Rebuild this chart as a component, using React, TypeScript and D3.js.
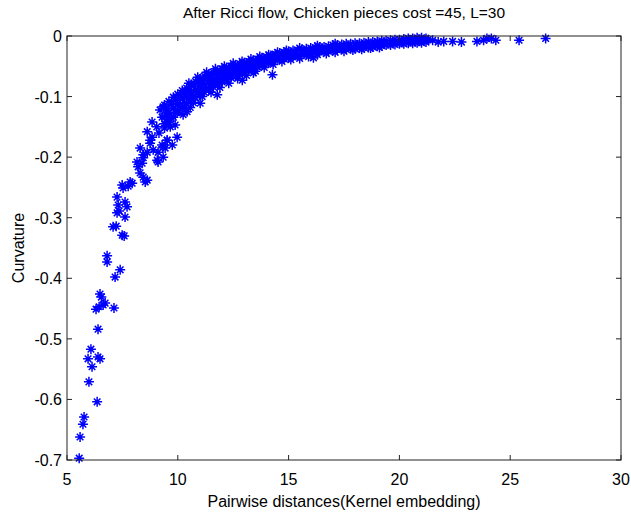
import React, { useEffect, useRef } from "react";
import * as d3 from "d3";

// x ticks and y ticks as drawn on the axes
const xTicks = [5, 10, 15, 20, 25, 30];
const yTicks = [0, -0.1, -0.2, -0.3, -0.4, -0.5, -0.6, -0.7];

// sparse low-distance tail
const tailPts: [number, number][] = [
    [5.55, -0.697], [5.59, -0.662], [5.72, -0.641], [5.77, -0.629], [6.36, -0.604],
    [5.99, -0.571], [6.13, -0.546], [5.95, -0.533], [6.40, -0.530], [6.49, -0.533],
    [6.08, -0.517], [6.40, -0.484], [6.31, -0.451], [6.45, -0.447], [6.63, -0.444],
    [6.72, -0.441], [6.49, -0.426], [6.55, -0.431], [7.12, -0.449], [7.17, -0.398],
    [7.40, -0.386], [6.81, -0.373], [6.81, -0.363], [7.08, -0.315], [7.22, -0.314],
    [7.49, -0.329], [7.58, -0.330], [7.26, -0.292], [7.35, -0.289], [7.62, -0.299],
    [7.31, -0.279], [7.71, -0.282], [7.26, -0.266], [7.62, -0.274], [7.53, -0.251],
    [7.76, -0.248], [7.94, -0.243], [7.49, -0.246], [7.85, -0.241], [8.53, -0.241],
    [8.62, -0.238], [8.44, -0.233], [8.30, -0.226], [8.21, -0.216], [8.39, -0.210],
    [8.44, -0.201], [8.16, -0.208], [9.07, -0.205], [9.11, -0.208], [8.30, -0.185],
    [8.75, -0.177], [8.89, -0.188], [9.34, -0.183], [9.52, -0.172], [8.44, -0.196],
    [8.62, -0.192], [9.11, -0.192], [8.75, -0.172], [8.84, -0.167], [8.62, -0.158],
    [8.84, -0.142], [9.20, -0.122], [9.34, -0.117], [9.29, -0.134], [9.52, -0.127],
    [9.97, -0.167], [9.66, -0.150], [9.88, -0.147], [9.97, -0.127], [10.24, -0.130],
    [10.42, -0.125], [9.52, -0.172], [9.43, -0.185], [9.29, -0.180], [9.75, -0.180],
    [9.34, -0.200], [9.05, -0.150], [9.15, -0.160], [9.40, -0.145], [9.60, -0.138],
    [11.01, -0.111], [10.56, -0.118], [11.78, -0.097], [12.91, -0.073], [13.41, -0.061],
    [14.27, -0.064], [16.12, -0.036],
];

// dense band, 9.4 to 15
const bandPts: [number, number][] = [
    [9.4, -0.114], [9.4, -0.133], [9.4, -0.152], [9.5, -0.120], [9.5, -0.142],
    [9.6, -0.108], [9.6, -0.127], [9.6, -0.146], [9.7, -0.113], [9.7, -0.136],
    [9.8, -0.101], [9.8, -0.119], [9.8, -0.134], [9.9, -0.106], [9.9, -0.126],
    [10.0, -0.096], [10.0, -0.111], [10.0, -0.124], [10.1, -0.099], [10.1, -0.116],
    [10.2, -0.090], [10.2, -0.104], [10.2, -0.118], [10.3, -0.094], [10.3, -0.110],
    [10.4, -0.086], [10.4, -0.099], [10.4, -0.112], [10.5, -0.089], [10.5, -0.104],
    [10.6, -0.080], [10.6, -0.094], [10.6, -0.107], [10.7, -0.083], [10.7, -0.099],
    [10.8, -0.075], [10.8, -0.089], [10.8, -0.102], [10.9, -0.078], [10.9, -0.093],
    [11.0, -0.071], [11.0, -0.084], [11.0, -0.097], [11.1, -0.074], [11.1, -0.089],
    [11.2, -0.066], [11.2, -0.080], [11.2, -0.093], [11.3, -0.070], [11.3, -0.085],
    [11.4, -0.063], [11.4, -0.076], [11.4, -0.088], [11.5, -0.066], [11.5, -0.080],
    [11.6, -0.060], [11.6, -0.072], [11.6, -0.084], [11.7, -0.063], [11.7, -0.076],
    [11.8, -0.057], [11.8, -0.069], [11.8, -0.080], [11.9, -0.060], [11.9, -0.073],
    [12.0, -0.054], [12.0, -0.066], [12.0, -0.076], [12.1, -0.057], [12.1, -0.069],
    [12.2, -0.052], [12.2, -0.062], [12.2, -0.072], [12.3, -0.055], [12.3, -0.066],
    [12.4, -0.050], [12.4, -0.060], [12.4, -0.069], [12.5, -0.053], [12.5, -0.064],
    [12.6, -0.048], [12.6, -0.057], [12.6, -0.066], [12.7, -0.050], [12.7, -0.061],
    [12.8, -0.046], [12.8, -0.055], [12.8, -0.063], [12.9, -0.048], [12.9, -0.058],
    [13.0, -0.044], [13.0, -0.052], [13.0, -0.060], [13.1, -0.046], [13.1, -0.055],
    [13.2, -0.042], [13.2, -0.050], [13.2, -0.057], [13.3, -0.044], [13.3, -0.053],
    [13.4, -0.040], [13.4, -0.047], [13.4, -0.054], [13.5, -0.042], [13.5, -0.050],
    [13.6, -0.038], [13.6, -0.045], [13.6, -0.051], [13.7, -0.040], [13.7, -0.048],
    [13.8, -0.036], [13.8, -0.042], [13.8, -0.048], [13.9, -0.038], [13.9, -0.045],
    [14.0, -0.034], [14.0, -0.040], [14.0, -0.045], [14.1, -0.036], [14.1, -0.043],
    [14.2, -0.032], [14.2, -0.038], [14.2, -0.042], [14.3, -0.034], [14.3, -0.040],
    [14.4, -0.030], [14.4, -0.035], [14.4, -0.040], [14.5, -0.032], [14.5, -0.037],
    [14.6, -0.028], [14.6, -0.033], [14.6, -0.038], [14.7, -0.030], [14.7, -0.035],
    [14.8, -0.027], [14.8, -0.032], [14.8, -0.037], [14.9, -0.028], [14.9, -0.034],
    [15.0, -0.025], [15.0, -0.030], [15.0, -0.036],
];

// ragged edges of the band
const edgePts: [number, number][] = [
    [10.3, -0.118], [10.7, -0.110], [11.1, -0.100], [11.5, -0.093], [11.9, -0.085],
    [12.3, -0.078], [12.7, -0.070], [13.1, -0.065], [13.5, -0.058], [13.9, -0.052],
    [14.3, -0.047], [14.7, -0.042], [15.1, -0.039], [15.5, -0.037], [15.9, -0.034],
    [16.3, -0.031], [16.7, -0.029], [17.1, -0.027], [17.5, -0.025], [17.9, -0.023],
    [18.3, -0.022], [18.7, -0.020], [19.1, -0.019],
    [10.5, -0.078], [10.9, -0.068], [11.3, -0.060], [11.7, -0.054], [12.1, -0.050],
    [12.5, -0.045], [12.9, -0.042], [13.3, -0.038], [13.7, -0.034], [14.1, -0.031],
    [14.5, -0.027], [14.9, -0.024], [15.5, -0.020], [16.3, -0.016], [17.1, -0.013],
];

// flattening tail, 15.2 onward
const flatPts: [number, number][] = [
    [15.2, -0.024], [15.2, -0.034], [15.3, -0.029], [15.4, -0.023], [15.4, -0.033],
    [15.6, -0.022], [15.6, -0.031], [15.7, -0.026], [15.8, -0.021], [15.8, -0.030],
    [16.0, -0.020], [16.0, -0.029], [16.1, -0.024], [16.2, -0.019], [16.2, -0.028],
    [16.4, -0.018], [16.4, -0.026], [16.5, -0.022], [16.6, -0.018], [16.6, -0.025],
    [16.8, -0.017], [16.8, -0.025], [16.9, -0.020], [17.0, -0.015], [17.0, -0.024],
    [17.2, -0.015], [17.2, -0.023], [17.3, -0.019], [17.4, -0.014], [17.4, -0.022],
    [17.6, -0.013], [17.6, -0.022], [17.7, -0.017], [17.8, -0.013], [17.8, -0.021],
    [18.0, -0.012], [18.0, -0.021], [18.1, -0.016], [18.2, -0.012], [18.2, -0.020],
    [18.4, -0.011], [18.4, -0.019], [18.5, -0.015], [18.6, -0.010], [18.6, -0.019],
    [18.8, -0.010], [18.8, -0.018], [18.9, -0.013], [19.0, -0.009], [19.0, -0.017],
    [19.2, -0.008], [19.2, -0.016], [19.3, -0.012], [19.4, -0.008], [19.4, -0.015],
    [19.6, -0.007], [19.6, -0.015], [19.7, -0.010], [19.8, -0.006], [19.8, -0.014],
    [20.0, -0.006], [20.0, -0.013], [20.1, -0.009], [20.2, -0.005], [20.2, -0.013],
    [20.4, -0.004], [20.4, -0.012], [20.5, -0.008], [20.6, -0.004], [20.6, -0.012],
    [20.7, -0.009], [20.8, -0.003], [20.8, -0.011], [20.9, -0.007], [21.0, -0.003],
    [21.0, -0.011], [21.1, -0.008], [21.2, -0.004], [21.2, -0.010], [21.3, -0.006],
    [21.5, -0.007], [21.75, -0.010], [22.0, -0.009], [22.4, -0.009], [22.8, -0.010],
    [23.5, -0.009], [23.8, -0.007], [23.95, -0.004], [24.15, -0.004], [24.35, -0.007],
    [25.4, -0.007], [26.6, -0.004],
];

const App = () => {
    const svgRef = useRef<SVGSVGElement>(null);

    useEffect(() => {
        const width = 631, height = 513;
        const margin = { top: 36, right: 10, bottom: 53, left: 67 };
        const iw = width - margin.left - margin.right;
        const ih = height - margin.top - margin.bottom;

        const svg = d3.select(svgRef.current)
            .attr("width", width)
            .attr("height", height);
        svg.selectAll("*").remove();

        svg.append("rect").attr("width", width).attr("height", height).attr("fill", "#fff");

        const x = d3.scaleLinear().domain([5, 30]).range([0, iw]);
        const y = d3.scaleLinear().domain([-0.7, 0]).range([ih, 0]);

        const g = svg.append("g")
            .attr("transform", `translate(${margin.left},${margin.top})`);

        const font = "'Liberation Sans', Arial, sans-serif";
        const tk = 5;

        // points, drawn as matlab-ish asterisks
        const star = "M-5,0H5M0,-5V5M-3.3,-3.3L3.3,3.3M-3.3,3.3L3.3,-3.3";
        g.selectAll(".pt")
            .data([...tailPts, ...bandPts, ...edgePts, ...flatPts])
            .enter()
            .append("path")
            .attr("class", "pt")
            .attr("d", star)
            .attr("transform", d => `translate(${x(d[0])},${y(d[1])})`)
            .attr("stroke", "#0000ff")
            .attr("stroke-width", 1.5)
            .attr("fill", "none");

        // box
        g.append("rect")
            .attr("width", iw).attr("height", ih)
            .attr("fill", "none").attr("stroke", "#222").attr("stroke-width", 1);

        xTicks.forEach(t => {
            g.append("line").attr("x1", x(t)).attr("x2", x(t)).attr("y1", ih).attr("y2", ih - tk).attr("stroke", "#222");
            g.append("line").attr("x1", x(t)).attr("x2", x(t)).attr("y1", 0).attr("y2", tk).attr("stroke", "#222");
            g.append("text").attr("x", x(t)).attr("y", ih + 25)
                .attr("text-anchor", "middle").attr("font-family", font).attr("font-size", 16)
                .text(t);
        });

        yTicks.forEach(t => {
            g.append("line").attr("x1", 0).attr("x2", tk).attr("y1", y(t)).attr("y2", y(t)).attr("stroke", "#222");
            g.append("line").attr("x1", iw).attr("x2", iw - tk).attr("y1", y(t)).attr("y2", y(t)).attr("stroke", "#222");
            g.append("text").attr("x", -5).attr("y", y(t) + 6)
                .attr("text-anchor", "end").attr("font-family", font).attr("font-size", 16)
                .text(t === 0 ? "0" : d3.format(".1f")(t).replace("−", "-"));
        });

        svg.append("text")
            .attr("x", margin.left + iw / 2).attr("y", 18)
            .attr("text-anchor", "middle").attr("font-family", font).attr("font-size", 15.5)
            .text("After Ricci flow, Chicken pieces cost =45, L=30");

        svg.append("text")
            .attr("x", margin.left + iw / 2).attr("y", 507)
            .attr("text-anchor", "middle").attr("font-family", font).attr("font-size", 16)
            .text("Pairwise distances(Kernel embedding)");

        svg.append("text")
            .attr("transform", `translate(24,${margin.top + ih / 2}) rotate(-90)`)
            .attr("text-anchor", "middle").attr("font-family", font).attr("font-size", 16)
            .text("Curvature");
    }, []);

    return <svg ref={svgRef} style={{ position: "absolute", left: 0, top: 0 }}></svg>;
};

export default App;
